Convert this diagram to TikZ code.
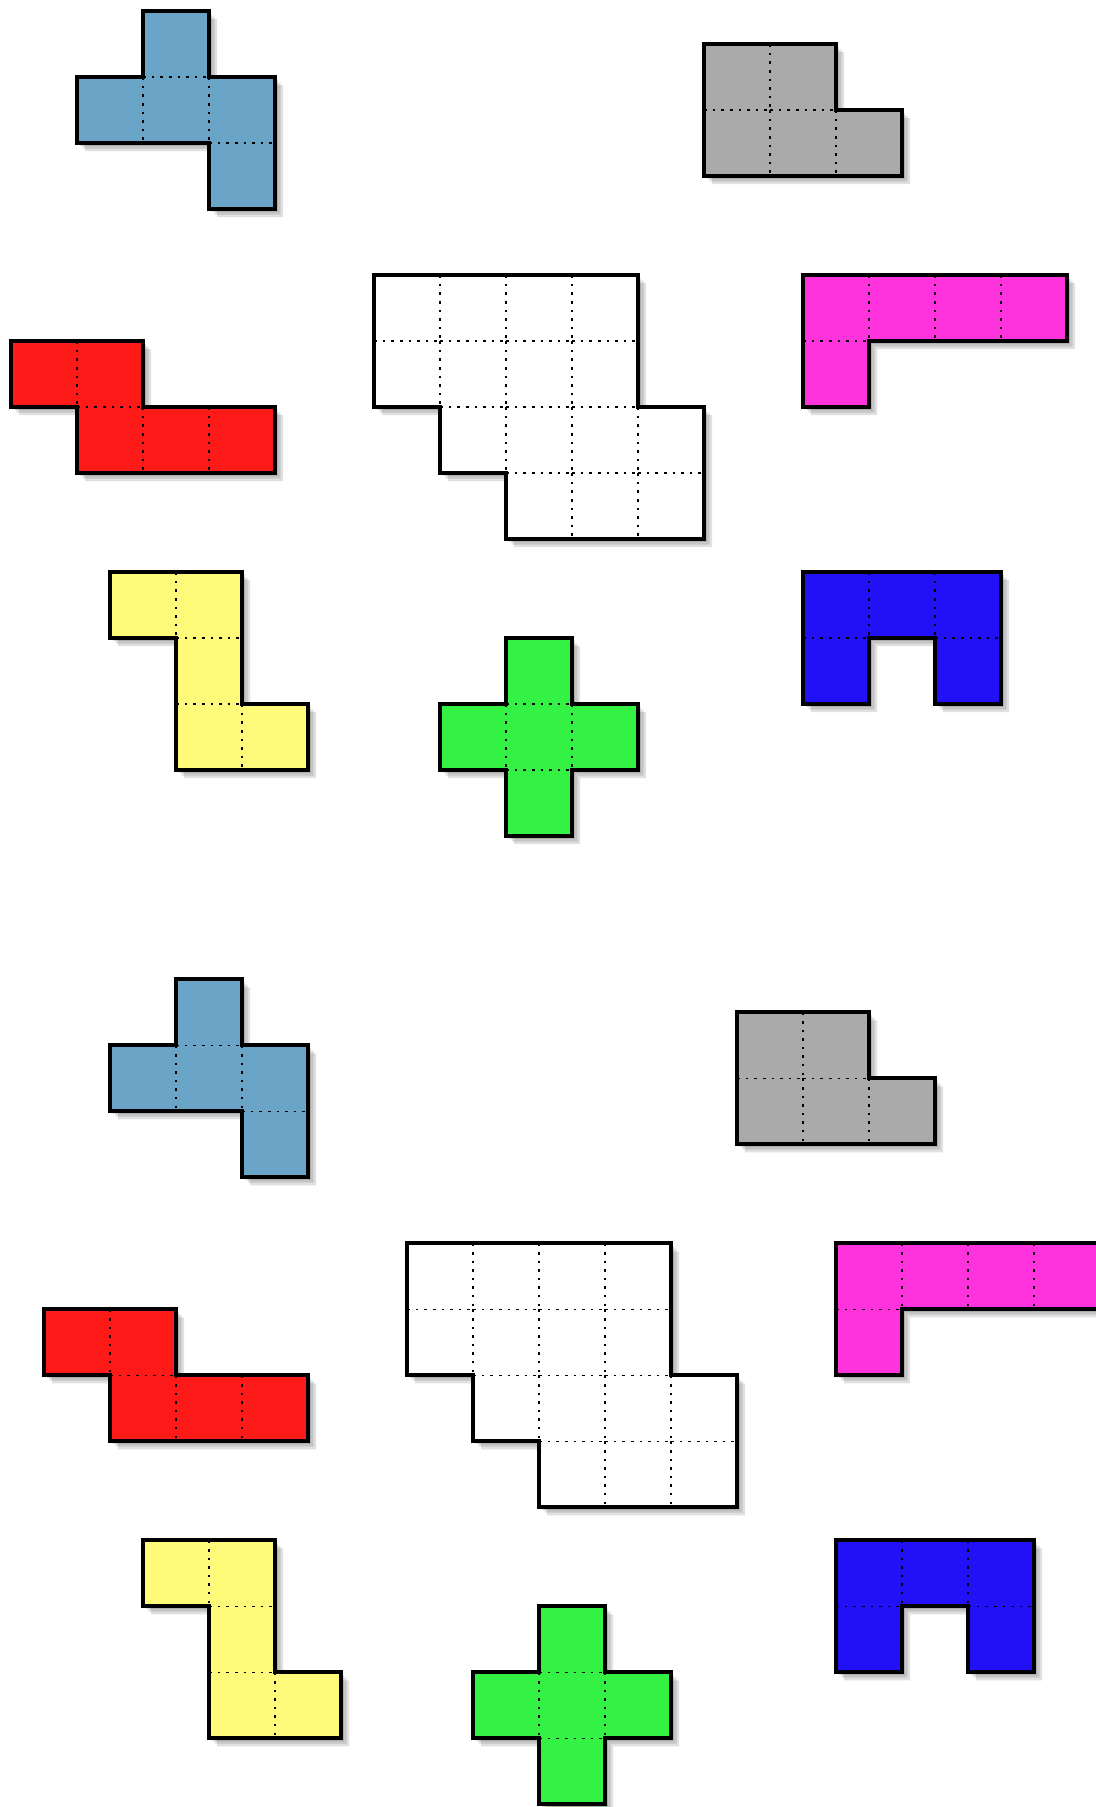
\documentclass[tikz,border=0pt]{standalone}
\usepackage{tikz}
\usepackage{xcolor}
\definecolor{cSteel}{RGB}{106,164,198}
\definecolor{cGrey}{RGB}{170,170,170}
\definecolor{cRed}{RGB}{255,26,26}
\definecolor{cPink}{RGB}{255,51,221}
\definecolor{cYellow}{RGB}{255,250,122}
\definecolor{cGreen}{RGB}{51,242,68}
\definecolor{cBlue}{RGB}{34,17,245}

\tikzset{
  cellgrid/.style={line width=0.8pt, dash pattern=on 1.1pt off 2.6pt},
  tileedge/.style={line width=1.7pt, line join=miter},
  tileshade/.style={black, opacity=0.12}
}

% one piece: colour, origin, cells (col/row), outline
\newcommand{\tile}[4]{%
  \begin{scope}[shift={#2}]
    \foreach \sh in {0.04,0.08,0.12} {
      \begin{scope}[shift={(\sh,\sh)}]
        \fill[tileshade] #4;
      \end{scope}
    }
    \fill[#1] #4;
    \foreach \cx/\cy in {#3} {
      \draw[cellgrid] (\cx,\cy) -- ++(1,0);
      \draw[cellgrid] (\cx,\cy) -- ++(0,1);
    }
    \draw[tileedge] #4;
  \end{scope}}

% the whole puzzle: board and its eight pieces
\newcommand{\tileset}[1]{%
  \begin{scope}[shift={#1}]
    % steel blue
    \tile{cSteel}{(1,0)}{1/0,0/1,1/1,2/1,2/2}
      {(1,0) -- (2,0) -- (2,1) -- (3,1) -- (3,3) -- (2,3) -- (2,2) -- (0,2) -- (0,1) -- (1,1) -- cycle}
    % grey
    \tile{cGrey}{(10.5,0.5)}{0/0,1/0,0/1,1/1,2/1}
      {(0,0) -- (2,0) -- (2,1) -- (3,1) -- (3,2) -- (0,2) -- cycle}
    % board
    \tile{white}{(5.5,4)}{0/0,1/0,2/0,3/0,0/1,1/1,2/1,3/1,1/2,2/2,3/2,4/2,2/3,3/3,4/3}
      {(0,0) -- (4,0) -- (4,2) -- (5,2) -- (5,4) -- (2,4) -- (2,3) -- (1,3) -- (1,2) -- (0,2) -- cycle}
    % pink
    \tile{cPink}{(12,4)}{0/0,1/0,2/0,3/0,0/1}
      {(0,0) -- (4,0) -- (4,1) -- (1,1) -- (1,2) -- (0,2) -- cycle}
    % red
    \tile{cRed}{(0,5)}{0/0,1/0,1/1,2/1,3/1}
      {(0,0) -- (2,0) -- (2,1) -- (4,1) -- (4,2) -- (1,2) -- (1,1) -- (0,1) -- cycle}
    % yellow
    \tile{cYellow}{(1.5,8.5)}{0/0,1/0,1/1,1/2,2/2}
      {(0,0) -- (2,0) -- (2,2) -- (3,2) -- (3,3) -- (1,3) -- (1,1) -- (0,1) -- cycle}
    % green
    \tile{cGreen}{(6.5,9.5)}{1/0,0/1,1/1,2/1,1/2}
      {(1,0) -- (2,0) -- (2,1) -- (3,1) -- (3,2) -- (2,2) -- (2,3) -- (1,3) -- (1,2) -- (0,2) -- (0,1) -- (1,1) -- cycle}
    % blue
    \tile{cBlue}{(12,8.5)}{0/0,1/0,2/0,0/1,2/1}
      {(0,0) -- (3,0) -- (3,2) -- (2,2) -- (2,1) -- (1,1) -- (1,2) -- (0,2) -- cycle}
  \end{scope}}

\begin{document}
\begin{tikzpicture}[x=1cm,y=-1cm]
  \useasboundingbox (0,0) rectangle (16.606,27.379);
  % first copy
  \tileset{(0.17,0.17)}
  % second copy, shifted
  \tileset{(0.67,14.84)}
\end{tikzpicture}
\end{document}
